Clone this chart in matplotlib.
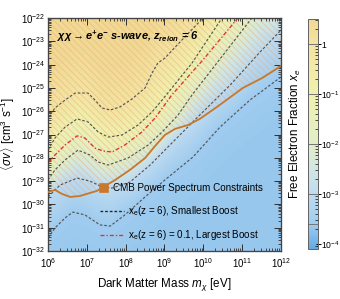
import numpy as np
import matplotlib
matplotlib.use("Agg")
import matplotlib.pyplot as plt
from matplotlib.colors import LinearSegmentedColormap, LogNorm
from matplotlib.lines import Line2D
import matplotlib.colorbar as mcolorbar
import matplotlib.ticker as mticker

plt.rcParams['font.family'] = ['Liberation Sans', 'DejaVu Sans']
plt.rcParams['mathtext.fontset'] = 'custom'
plt.rcParams['mathtext.rm'] = 'Liberation Sans'
plt.rcParams['mathtext.it'] = 'Liberation Sans:italic'
plt.rcParams['mathtext.bf'] = 'Liberation Sans:bold:italic'
plt.rcParams['hatch.linewidth'] = 0.55

# ---------------- data (log10 mass [eV], log10 <sigma v> [cm^3/s]) ----------------
cmb_logm = [6.0, 6.18, 6.36, 6.57, 6.82, 7.26, 7.73, 8.11, 8.50, 8.76, 9.01, 9.27, 9.61, 9.91, 10.35, 11.02, 11.51, 12.0]
cmb_logsv = [-29.47, -29.38, -29.55, -29.68, -29.64, -29.42, -28.95, -28.52, -28.01, -27.49, -27.02, -26.76, -26.59, -26.33, -25.82, -25.00, -24.58, -24.06]

# xe(z=6) contours, smallest boost
xe1_logm = [6.0, 6.18, 6.44, 6.70, 7.03, 7.21, 7.39, 7.60, 7.85, 8.16, 8.50, 8.68, 8.83, 9.01, 9.40, 9.99, 10.30]
xe1_logsv = [-26.29, -25.86, -25.52, -25.22, -25.22, -25.52, -25.86, -25.95, -25.82, -25.48, -25.00, -24.36, -23.93, -23.72, -23.03, -22.0, -21.44]

xe01_logm = [6.0, 6.18, 6.44, 6.75, 7.03, 7.29, 7.55, 7.91, 8.32, 8.68, 8.94, 9.71, 10.48, 10.82]
xe01_logsv = [-27.67, -27.15, -26.68, -26.33, -26.46, -26.89, -27.11, -27.02, -26.59, -26.03, -25.52, -23.93, -22.0, -21.31]

xe001_logm = [6.0, 6.18, 6.44, 6.77, 7.08, 7.29, 7.55, 8.06, 8.58, 8.94, 9.35, 9.71, 11.25, 11.51]
xe001_logsv = [-28.95, -28.52, -28.09, -27.67, -27.88, -28.18, -28.31, -28.01, -27.45, -26.89, -26.16, -25.30, -22.0, -21.44]

xe1e3_logm = [6.0, 6.31, 6.75, 7.08, 7.34, 7.65, 8.11, 8.63, 9.14, 9.91, 10.69, 11.46, 12.0]
xe1e3_logsv = [-29.68, -29.17, -28.87, -29.00, -29.21, -29.30, -29.04, -28.31, -27.45, -26.16, -24.88, -23.46, -22.52]

xe25e4_logm = [6.0, 6.18, 6.44, 6.64, 6.95, 7.34, 7.60, 7.98, 8.50, 9.01, 9.73, 10.43, 11.20, 12.0]
xe25e4_logsv = [-31.44, -31.01, -30.58, -30.33, -30.45, -30.88, -30.93, -30.45, -29.68, -28.95, -27.97, -26.68, -25.52, -24.53]

# xe(z=6) = 0.1, largest boost
red_logm = [6.0, 6.18, 6.44, 6.75, 6.95, 7.21, 7.42, 7.65, 7.98, 8.42, 8.76, 9.19, 9.99, 10.89, 11.20]
red_logsv = [-28.22, -27.88, -27.45, -27.06, -27.15, -27.58, -27.71, -27.75, -27.45, -26.89, -26.29, -25.30, -23.80, -22.0, -21.40]

contour_levels_log = [-3.6, -3.0, -2.0, -1.0, 0.0]
contour_sets = [(xe25e4_logm, xe25e4_logsv), (xe1e3_logm, xe1e3_logsv),
                (xe001_logm, xe001_logsv), (xe01_logm, xe01_logsv), (xe1_logm, xe1_logsv)]

x_ticks = [1e6, 1e7, 1e8, 1e9, 1e10, 1e11, 1e12]
y_ticks = [10.0**k for k in range(-32, -21)]
cbar_ticks = [1e-4, 1e-3, 1e-2, 1e-1, 1]
cbar_ticklabels = [r'$10^{-4}$', r'$10^{-3}$', r'$10^{-2}$', r'$10^{-1}$', '1']

# ---------------- colormap ----------------
lo, hi = -4.1, 0.5
stops = [(-4.1, '#62aae6'), (-3.6, '#a0ccef'), (-3.0, '#bedbf0'), (-2.5, '#d2e6e4'),
         (-2.0, '#e2eec8'), (-1.0, '#f0f1ae'), (0.0, '#f4e4a2'), (0.5, '#f1d994')]
cmap = LinearSegmentedColormap.from_list('xe', [((v - lo) / (hi - lo), c) for v, c in stops])
norm = LogNorm(vmin=10**lo, vmax=10**hi)

# ---------------- background field from contour lines ----------------
lm = np.linspace(6, 12, 361)
ls = np.linspace(-32, -22, 361)
Z = np.zeros((ls.size, lm.size))
curves = [np.interp(lm, np.array(a), np.array(b)) for a, b in contour_sets]
for j in range(lm.size):
    knots = np.array([c[j] for c in curves])
    col = np.interp(ls, knots, contour_levels_log)
    above = ls > knots[-1]
    col[above] = np.minimum(0.5, 0.25 * (ls[above] - knots[-1]))
    below = ls < knots[0]
    col[below] = np.maximum(-3.66, -3.6 - 0.03 * (knots[0] - ls[below]))
    Z[:, j] = col

fig = plt.figure(figsize=(340 / 120, 299 / 120), dpi=120)
ax = fig.add_axes([48 / 340, 1 - 251 / 299, 233 / 340, 233 / 299])
cax = fig.add_axes([308 / 340, 1 - 249 / 299, 10 / 340, 230 / 299])

ax.pcolormesh(10**lm, 10**ls, 10**Z, cmap=cmap, norm=norm, shading='gouraud', alpha=0.68,
              rasterized=True, zorder=0)

cm = 10**np.array(cmb_logm)
cs = 10**np.array(cmb_logsv)
ax.fill_between(cm, cs, 1e-20, facecolor='none', edgecolor=(0.9, 0.68, 0.48, 0.5),
                hatch='\\' * 6, linewidth=0, zorder=1)

gray = '#555555'
for a, b in contour_sets:
    ax.plot(10**np.array(a), 10**np.array(b), color=gray, lw=0.7, ls=(0, (2.2, 1.6)), zorder=2)
ax.plot(10**np.array(red_logm), 10**np.array(red_logsv), color='#e8302a', lw=0.8,
        ls=(0, (3, 1.5, 1, 1.5)), zorder=2)
ax.plot(cm, cs, color='#c8782c', lw=1.1, zorder=3)

ax.set_xscale('log')
ax.set_yscale('log')
ax.set_xlim(1e6, 1e12)
ax.set_ylim(1e-32, 1e-22)
ax.xaxis.set_major_locator(mticker.FixedLocator(x_ticks))
ax.yaxis.set_major_locator(mticker.FixedLocator(y_ticks))
ax.xaxis.set_major_formatter(mticker.LogFormatterSciNotation())
ax.yaxis.set_major_formatter(mticker.LogFormatterSciNotation())
ax.xaxis.set_minor_locator(mticker.LogLocator(base=10, subs=np.arange(2, 10), numticks=20))
ax.yaxis.set_minor_locator(mticker.LogLocator(base=10, subs=np.arange(2, 10), numticks=20))
ax.xaxis.set_minor_formatter(mticker.NullFormatter())
ax.yaxis.set_minor_formatter(mticker.NullFormatter())
ax.tick_params(which='both', direction='in', top=True, right=True, color='#333333',
               labelsize=5.8)
ax.tick_params(axis='x', pad=3)
ax.tick_params(axis='y', pad=2)
ax.tick_params(which='major', length=4, width=0.6)
ax.tick_params(which='minor', length=2, width=0.5)
for sp in ax.spines.values():
    sp.set_color('#444444')
    sp.set_linewidth(0.8)

ax.set_xlabel(r'Dark Matter Mass $m_\chi$ [eV]', fontsize=7, labelpad=4)
ax.set_ylabel(r'$\langle\sigma v\rangle$ [cm$^3$ s$^{-1}$]', fontsize=7)
ax.yaxis.set_label_coords(-31 / 233, 0.5)

ax.text(0.04, 0.955, r'$\mathbf{\chi\chi \rightarrow e^{+}e^{-}}$ s-wave, $\mathbf{z}_\mathbf{reion}$ = 6',
        transform=ax.transAxes, fontsize=6.6, fontweight='bold', fontstyle='italic',
        va='top', ha='left', zorder=5)

h1 = [Line2D([], [], marker='s', color='#c8782c', ls='none', markersize=4.5)]
leg1 = ax.legend(h1, ['CMB Power Spectrum Constraints'], loc='upper left',
                 bbox_to_anchor=(0.223, 0.29), frameon=False, fontsize=5.9,
                 handlelength=0.8, handletextpad=0.5, borderpad=0, borderaxespad=0)
ax.add_artist(leg1)
h2 = [Line2D([], [], color='#222222', lw=0.8, ls=(0, (2, 1.5))),
      Line2D([], [], color='#e8302a', lw=0.8, ls=(0, (3, 1.5, 1, 1.5)))]
ax.legend(h2, [r'x$_\mathrm{e}$(z = 6), Smallest Boost', r'x$_\mathrm{e}$(z = 6) = 0.1, Largest Boost'],
          loc='upper left', bbox_to_anchor=(0.223, 0.20), frameon=False, fontsize=5.9,
          handlelength=2.4, handletextpad=0.5, labelspacing=1.0, borderpad=0, borderaxespad=0)

# ---------------- colorbar ----------------
cb = mcolorbar.ColorbarBase(cax, cmap=cmap, norm=norm, orientation='vertical')
cb.outline.set_edgecolor('#666666')
cb.outline.set_linewidth(0.6)
cb.set_ticks(cbar_ticks)
cb.set_ticklabels(cbar_ticklabels)
cax.tick_params(which='major', direction='inout', length=3, width=0.6, labelsize=5.2, pad=0.3)
cax.tick_params(which='minor', direction='in', length=2, width=0.4)
for lev in contour_levels_log:
    cax.axhline(10**lev, color='#777777', lw=0.6)
cb.set_label(r'Free Electron Fraction $x_e$', fontsize=7, labelpad=3)
cax.yaxis.set_label_position('left')

fig.savefig('out.png', dpi=120)
